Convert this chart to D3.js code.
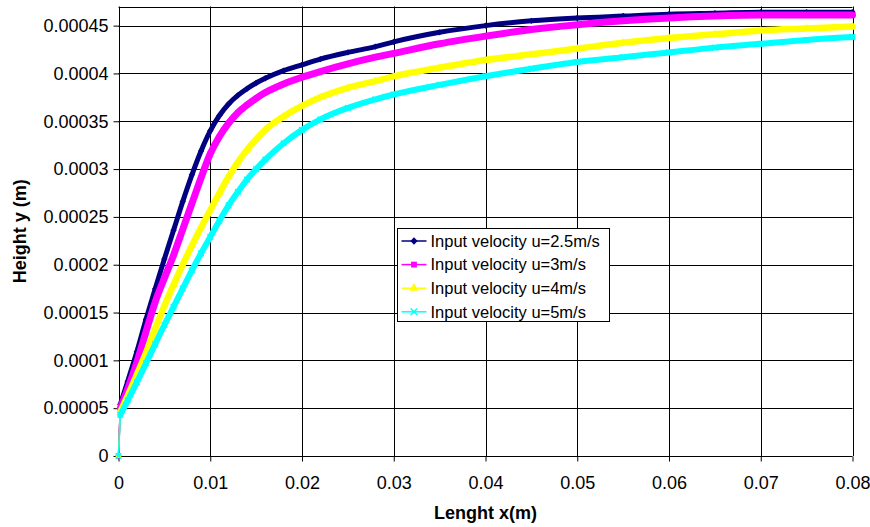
<!DOCTYPE html>
<html>
<head>
	<meta charset="utf-8">
	<title>Height vs length</title>
	<script src="https://d3js.org/d3.v7.min.js"></script>
	<style>
		body{margin:0;background:#fff}
		svg text{font-family:Arial,'Liberation Sans',sans-serif;fill:#000}
		.tick text{font-size:18px}
		.title{font-size:18px;font-weight:bold}
		.legend text{font-size:16.5px}
	</style>
</head>
<body>
	<div class="chart"></div>
	<script>
		// x positions (m) shared by all series
		const xs = [0, 0.0002, 0.001, 0.002, 0.003, 0.004, 0.005, 0.006, 0.007, 0.008, 0.009, 0.010, 0.011, 0.012, 0.013, 0.014, 0.015, 0.016, 0.018, 0.020, 0.022, 0.025, 0.028, 0.030, 0.035, 0.040, 0.045, 0.050, 0.055, 0.060, 0.065, 0.070, 0.075, 0.080];
		// heights (m) per input velocity
		const y25 = [0, 0.000054, 0.000078, 0.000109, 0.000143, 0.000175, 0.000206, 0.000236, 0.000266, 0.000294, 0.000319, 0.00034, 0.000356, 0.000368, 0.000377, 0.000384, 0.00039, 0.000395, 0.000403, 0.000409, 0.000415, 0.000422, 0.000428, 0.000433, 0.000443, 0.00045, 0.000455, 0.000458, 0.00046, 0.000462, 0.000463, 0.000464, 0.000464, 0.000464];
		const y3 = [0, 0.00005, 0.00007, 0.000098, 0.00013, 0.000161, 0.000186, 0.00021, 0.000237, 0.000264, 0.000291, 0.000316, 0.000334, 0.000348, 0.000359, 0.000367, 0.000374, 0.00038, 0.000389, 0.000396, 0.000402, 0.00041, 0.000417, 0.000421, 0.000431, 0.000439, 0.000446, 0.000451, 0.000455, 0.000458, 0.00046, 0.000461, 0.000461, 0.000461];
		const y4 = [0, 0.000046, 0.000063, 0.000085, 0.000108, 0.000133, 0.000157, 0.000179, 0.0002, 0.00022, 0.000239, 0.000257, 0.000275, 0.000292, 0.000307, 0.00032, 0.000331, 0.000341, 0.000355, 0.000366, 0.000375, 0.000385, 0.000392, 0.000397, 0.000406, 0.000414, 0.00042, 0.000426, 0.000432, 0.000437, 0.000441, 0.000445, 0.000447, 0.000449];
		const y5 = [0, 0.000043, 0.000058, 0.000077, 0.000097, 0.000117, 0.000137, 0.000156, 0.000175, 0.000194, 0.000212, 0.000229, 0.000246, 0.000262, 0.000276, 0.000289, 0.0003, 0.00031, 0.000327, 0.000341, 0.000352, 0.000364, 0.000373, 0.000378, 0.000388, 0.000397, 0.000405, 0.000412, 0.000417, 0.000422, 0.000427, 0.000431, 0.000435, 0.000438];
		const seriesNames = ['Input velocity u=2.5m/s', 'Input velocity u=3m/s', 'Input velocity u=4m/s', 'Input velocity u=5m/s'];
		const xTicks = [0, 0.01, 0.02, 0.03, 0.04, 0.05, 0.06, 0.07, 0.08];
		const yTicks = [0, 0.00005, 0.0001, 0.00015, 0.0002, 0.00025, 0.0003, 0.00035, 0.0004, 0.00045];

		const colors = ['#000080', '#FF00FF', '#FFFF00', '#00FFFF'];
		const symbols = [d3.symbolDiamond2, d3.symbolSquare, d3.symbolTriangle, d3.symbolX];
		const bandWidths = [5, 7, 6.5, 6];

		const width = 870, height = 527;
		const margin = {top: 6.5, right: 17.5, bottom: 71, left: 118.5};

		const svg = d3.select('.chart').append('svg')
			.attr('width', width).attr('height', height)
			.attr('viewBox', `0 0 ${width} ${height}`);

		const x = d3.scaleLinear().domain([0, 0.08]).range([margin.left, width - margin.right]);
		const y = d3.scaleLinear().domain([0, 0.00047]).range([height - margin.bottom, margin.top]);

		// gridlines
		svg.append('g').selectAll('line').data(yTicks.slice(1)).join('line')
			.attr('x1', x(0)).attr('x2', x(0.08))
			.attr('y1', d => Math.round(y(d)) + 0.5).attr('y2', d => Math.round(y(d)) + 0.5)
			.attr('stroke', '#000').attr('stroke-width', 1);
		svg.append('g').selectAll('line').data(xTicks.slice(1)).join('line')
			.attr('x1', d => Math.round(x(d)) + 0.5).attr('x2', d => Math.round(x(d)) + 0.5)
			.attr('y1', y(0)).attr('y2', y(0.00047))
			.attr('stroke', '#000').attr('stroke-width', 1);
		svg.append('line')
			.attr('x1', x(0)).attr('x2', x(0.08))
			.attr('y1', Math.round(y(0.00047)) + 0.5).attr('y2', Math.round(y(0.00047)) + 0.5)
			.attr('stroke', '#000');

		// axes
		const fmt = d => d === 0 ? '0' : String(+d.toFixed(5));
		const xAxis = svg.append('g')
			.attr('transform', `translate(0,${Math.round(y(0)) + 0.5})`)
			.call(d3.axisBottom(x).tickValues(xTicks).tickFormat(fmt).tickSize(5).tickPadding(15));
		const yAxis = svg.append('g')
			.attr('transform', `translate(${Math.round(x(0)) + 0.5},0)`)
			.call(d3.axisLeft(y).tickValues(yTicks).tickFormat(fmt).tickSize(6).tickPadding(5));
		svg.selectAll('.domain').attr('stroke', '#000');
		yAxis.select('.domain').attr('d', `M0,${y(0.00047)}V${y(0)}`);
		xAxis.select('.domain').attr('d', `M${x(0)},0H${x(0.08)}`);
		svg.selectAll('.tick line').attr('stroke', '#000');
		svg.selectAll('.tick text').attr('fill', '#000');

		// series
		const series = seriesNames.map((name, i) => ({
			name,
			values: xs.map((v, j) => ({x: v, y: [y25, y3, y4, y5][i][j]}))
		}));

		const thin = d3.line().x(d => x(d.x)).y(d => y(d.y));
		const band = d3.line().x(d => x(d.x)).y(d => y(d.y)).curve(d3.curveMonotoneX);

		const plot = svg.append('g');
		series.forEach((s, i) => {
			const g = plot.append('g');
			g.append('path').datum(s.values)
				.attr('d', thin).attr('fill', 'none')
				.attr('stroke', colors[i]).attr('stroke-width', 1.5);
			g.append('path').datum(s.values.slice(1))
				.attr('d', band).attr('fill', 'none')
				.attr('stroke', colors[i]).attr('stroke-width', bandWidths[i])
				.attr('stroke-linejoin', 'round').attr('stroke-linecap', 'round');
			g.selectAll('path.pt').data(s.values).join('path')
				.attr('class', 'pt')
				.attr('transform', d => `translate(${x(d.x)},${y(d.y)})`)
				.attr('d', d3.symbol().type(symbols[i]).size(i === 3 ? 22 : 26))
				.attr('fill', i === 3 ? 'none' : colors[i])
				.attr('stroke', i === 3 ? colors[i] : 'none')
				.attr('stroke-width', 1.5);
		});

		// legend
		const lg = svg.append('g').attr('class', 'legend').attr('transform', 'translate(397.5,228.5)');
		lg.append('rect').attr('width', 212).attr('height', 93)
			.attr('fill', '#fff').attr('stroke', '#000').attr('stroke-width', 1);
		const item = lg.selectAll('g.item').data(series).join('g')
			.attr('class', 'item')
			.attr('transform', (d, i) => `translate(0,${12.5 + i * 23.6})`);
		item.append('line').attr('x1', 4).attr('x2', 29).attr('y1', 0).attr('y2', 0)
			.attr('stroke', (d, i) => colors[i]).attr('stroke-width', 1.5);
		item.append('path')
			.attr('transform', 'translate(16.5,0)')
			.attr('d', (d, i) => d3.symbol().type(symbols[i]).size(i === 3 ? 30 : 34)())
			.attr('fill', (d, i) => i === 3 ? 'none' : colors[i])
			.attr('stroke', (d, i) => i === 3 ? colors[i] : 'none')
			.attr('stroke-width', 1.5);
		item.append('text').attr('x', 33).attr('dy', '0.35em').text(d => d.name);

		// axis titles
		svg.append('text').attr('class', 'title')
			.attr('x', (x(0) + x(0.08)) / 2).attr('y', 519)
			.attr('text-anchor', 'middle').text('Lenght x(m)');
		svg.append('text').attr('class', 'title')
			.attr('transform', `translate(26,${(y(0) + y(0.00047)) / 2}) rotate(-90)`)
			.attr('text-anchor', 'middle').text('Height y (m)');
	</script>
</body>
</html>
